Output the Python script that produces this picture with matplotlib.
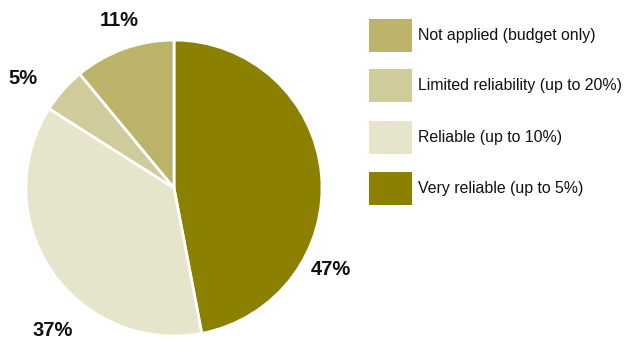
import matplotlib
matplotlib.use("Agg")
import matplotlib.pyplot as plt
from matplotlib.patches import Rectangle

plt.rcParams['font.family'] = ['Liberation Sans', 'DejaVu Sans']

categories = ["Very reliable (up to 5%)", "Reliable (up to 10%)",
              "Limited reliability (up to 20%)", "Not applied (budget only)"]
shares = [47, 37, 5, 11]
colors = ["#8B8000", "#E6E4CB", "#D0CB9B", "#BBB36A"]
# legend order, top to bottom
legend_order = [3, 2, 1, 0]
# label anchors (in pie radius units)
label_pos = [(1.06, -0.55), (-0.82, -0.96), (-1.02, 0.74), (-0.37, 1.135)]

W, H = 625, 345
fig = plt.figure(figsize=(W / 100, H / 100), dpi=100)

cx, cy, r = 174, 345 - 188, 148
lim = 1.3
size = 2 * lim * r
ax = fig.add_axes([(cx - size / 2) / W, (cy - size / 2) / H, size / W, size / H])
ax.pie(shares, colors=colors, startangle=90, counterclock=False,
       wedgeprops=dict(edgecolor="white", linewidth=2))
ax.set_xlim(-lim, lim)
ax.set_ylim(-lim, lim)
ax.set_aspect("equal")
ax.axis("off")

for v, (x, y) in zip(shares, label_pos):
    ax.text(x, y, f"{v}%", ha="center", va="center", fontsize=14.5,
            fontweight="bold", color="#111111", clip_on=False)

# legend
box_x, box_w, box_h = 369, 43, 33
row_tops = [19, 69, 121, 172]
for top, idx in zip(row_tops, legend_order):
    fig.patches.append(Rectangle((box_x / W, (H - top - box_h) / H), box_w / W, box_h / H,
                                 transform=fig.transFigure, facecolor=colors[idx],
                                 edgecolor="none"))
    fig.text(418 / W, (H - top - box_h / 2) / H, categories[idx], ha="left", va="center",
             fontsize=11.4, color="#111111")

fig.savefig("out.png", dpi=100)
